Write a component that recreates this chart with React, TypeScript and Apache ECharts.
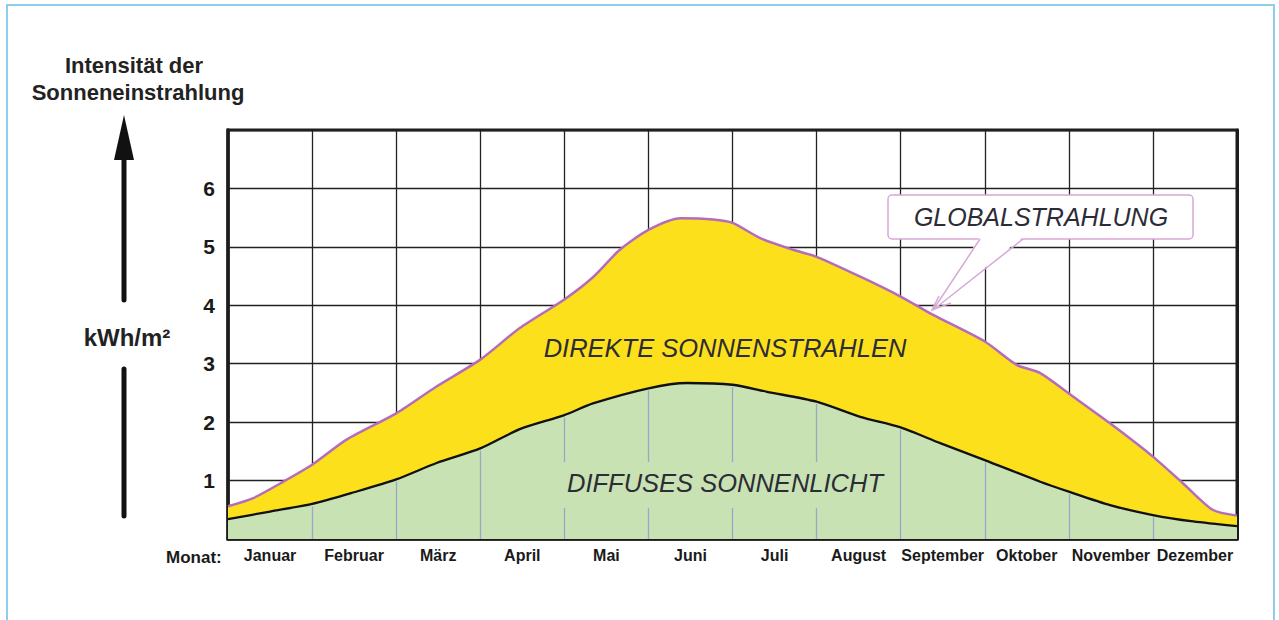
import React, { useEffect, useRef } from "react";
import * as echarts from "echarts";

const months = ["Januar", "Februar", "März", "April", "Mai", "Juni", "Juli", "August", "September", "Oktober", "November", "Dezember"];
const yTickMin = 0;
const yTickMax = 7;

// Globalstrahlung (month position 0..12, kWh/m²)
const globalX = [0, 0.3, 0.62, 1, 1.41, 2, 2.48, 3, 3.47, 4, 4.34, 4.66, 5, 5.38, 5.77, 6, 6.33, 6.72, 7, 7.52, 8, 8.38, 9, 9.38, 9.66, 10, 10.49, 11, 11.36, 11.71, 12];
const globalY = [0.56, 0.7, 0.95, 1.27, 1.7, 2.15, 2.61, 3.07, 3.61, 4.1, 4.48, 4.95, 5.29, 5.49, 5.47, 5.41, 5.15, 4.95, 4.83, 4.49, 4.15, 3.84, 3.38, 2.98, 2.84, 2.49, 1.98, 1.41, 0.95, 0.5, 0.4];

// Diffuses Sonnenlicht
const diffX = [0, 0.5, 1, 1.5, 2, 2.48, 3, 3.47, 4, 4.34, 5, 5.46, 6, 6.41, 7, 7.52, 8, 8.47, 9, 9.66, 10, 10.49, 11, 11.48, 12];
const diffY = [0.34, 0.47, 0.6, 0.8, 1.02, 1.3, 1.55, 1.88, 2.12, 2.32, 2.58, 2.67, 2.64, 2.52, 2.35, 2.09, 1.91, 1.64, 1.35, 0.98, 0.81, 0.58, 0.41, 0.3, 0.22];

const GREEN = "#c8e2b4";
const YELLOW = "#fde01c";
const PURPLE = "#b56cba";
const DARK = "#1c1c1c";
const TXT = "#2c2c36";
const PINK = "#d9a8d6";
const FONT = "'Liberation Sans', Arial, sans-serif";

export default function App() {
  const ref = useRef<HTMLDivElement>(null);
  useEffect(() => {
    if (!ref.current) return;
    const chart = echarts.init(ref.current, undefined, { renderer: "svg" });
    const globalData = globalX.map((x, i) => [x, globalY[i]]);
    const diffData = diffX.map((x, i) => [x, diffY[i]]);
    const innerLines = diffX
      .map((x, i) => ({ x, y: diffY[i] }))
      .filter((p) => Number.isInteger(p.x) && p.x > 0 && p.x < 12)
      .map((p) => [{ coord: [p.x, 0] }, { coord: [p.x, p.y - 0.04] }]);

    const z = 100;
    chart.setOption({
      animation: false,
      grid: { left: 228, right: 42, top: 130, bottom: 81, show: true, borderColor: DARK, borderWidth: 3, backgroundColor: "#fff" },
      xAxis: [
        {
          type: "category",
          data: months,
          boundaryGap: true,
          axisLine: { show: true, lineStyle: { color: DARK, width: 3.5 } },
          axisTick: { show: false },
          axisLabel: { color: "#1a1a1a", fontWeight: "bold", fontSize: 16, fontFamily: FONT, margin: 8, interval: 0 },
          splitLine: { show: true, lineStyle: { color: "#222", width: 1.3 } },
        },
        { type: "value", min: 0, max: 12, show: false },
      ],
      yAxis: [
        {
          type: "value",
          min: yTickMin,
          max: yTickMax,
          interval: 1,
          axisLine: { show: true, lineStyle: { color: DARK, width: 3.5 } },
          axisTick: { show: false },
          axisLabel: {
            color: "#1a1a1a",
            fontWeight: "bold",
            fontSize: 21,
            fontFamily: FONT,
            margin: 13,
            formatter: (v: number) => (v === yTickMin || v === yTickMax ? "" : String(v)),
          },
          splitLine: { show: true, lineStyle: { color: "#222", width: 1.3 } },
        },
        {
          type: "value",
          min: yTickMin,
          max: yTickMax,
          position: "right",
          axisLine: { show: true, lineStyle: { color: DARK, width: 3 } },
          axisTick: { show: false },
          axisLabel: { show: false },
          splitLine: { show: false },
        },
      ],
      series: [
        {
          name: "Globalstrahlung",
          type: "line",
          xAxisIndex: 1,
          yAxisIndex: 0,
          data: globalData,
          smooth: 0.25,
          showSymbol: false,
          lineStyle: { color: PURPLE, width: 2.5 },
          areaStyle: { color: YELLOW, opacity: 1 },
          z: 2,
        },
        {
          name: "Diffuses Sonnenlicht",
          type: "line",
          xAxisIndex: 1,
          yAxisIndex: 0,
          data: diffData,
          smooth: 0.25,
          showSymbol: false,
          lineStyle: { color: "#111", width: 2.3 },
          areaStyle: { color: GREEN, opacity: 1 },
          z: 3,
          markLine: {
            silent: true,
            symbol: ["none", "none"],
            label: { show: false },
            lineStyle: { color: "#9ba7c9", width: 1.3, type: "solid" },
            data: innerLines,
          },
        },
      ],
      graphic: [
        { type: "rect", z, shape: { x: 7, y: 5, width: 1267, height: 640 }, style: { fill: "none", stroke: "#8fcdee", lineWidth: 2 } },
        { type: "text", z, style: { text: "Intensität der", x: 134, y: 65, textAlign: "center", textVerticalAlign: "middle", fill: "#222", font: `bold 22px ${FONT}` } },
        { type: "text", z, style: { text: "Sonneneinstrahlung", x: 138, y: 92, textAlign: "center", textVerticalAlign: "middle", fill: "#222", font: `bold 22px ${FONT}` } },
        { type: "text", z, style: { text: "kWh/m²", x: 127, y: 337, textAlign: "center", textVerticalAlign: "middle", fill: "#222", font: `bold 24px ${FONT}` } },
        { type: "text", z, style: { text: "Monat:", x: 166, y: 557, textAlign: "left", textVerticalAlign: "middle", fill: "#1a1a1a", font: `bold 17px ${FONT}` } },
        { type: "polygon", z, shape: { points: [[124, 115], [114, 160], [134, 160]] }, style: { fill: "#111" } },
        { type: "line", z, shape: { x1: 124, y1: 155, x2: 124, y2: 300 }, style: { stroke: "#111", lineWidth: 5, lineCap: "round" } },
        { type: "line", z, shape: { x1: 124, y1: 369, x2: 124, y2: 516 }, style: { stroke: "#111", lineWidth: 5, lineCap: "round" } },
        { type: "text", z, style: { text: "DIREKTE SONNENSTRAHLEN", x: 725, y: 348, textAlign: "center", textVerticalAlign: "middle", fill: TXT, font: `italic 25.5px ${FONT}` } },
        { type: "rect", z, shape: { x: 560, y: 462, width: 330, height: 46 }, style: { fill: GREEN } },
        { type: "text", z: z + 1, style: { text: "DIFFUSES SONNENLICHT", x: 725, y: 483, textAlign: "center", textVerticalAlign: "middle", fill: TXT, font: `italic 25.5px ${FONT}` } },
        { type: "rect", z, shape: { x: 888, y: 195, width: 305, height: 44, r: 4 }, style: { fill: "#fff", stroke: PINK, lineWidth: 1.5 } },
        { type: "polygon", z: z + 1, shape: { points: [[980, 237], [1023, 237], [933, 310]] }, style: { fill: "#fff" } },
        { type: "polyline", z: z + 1, shape: { points: [[980, 239], [933, 310], [1023, 239]] }, style: { fill: "none", stroke: PINK, lineWidth: 1.5 } },
        { type: "polyline", z: z + 1, shape: { points: [[939, 296], [932, 310], [951, 303]] }, style: { fill: "none", stroke: PINK, lineWidth: 1.5 } },
        { type: "text", z: z + 2, style: { text: "GLOBALSTRAHLUNG", x: 1041, y: 217, textAlign: "center", textVerticalAlign: "middle", fill: TXT, font: `italic 25px ${FONT}` } },
      ],
    });
    return () => chart.dispose();
  }, []);
  return <div ref={ref} style={{ position: "absolute", left: 0, top: 0, width: 1279, height: 620, background: "#fff" }} />;
}
